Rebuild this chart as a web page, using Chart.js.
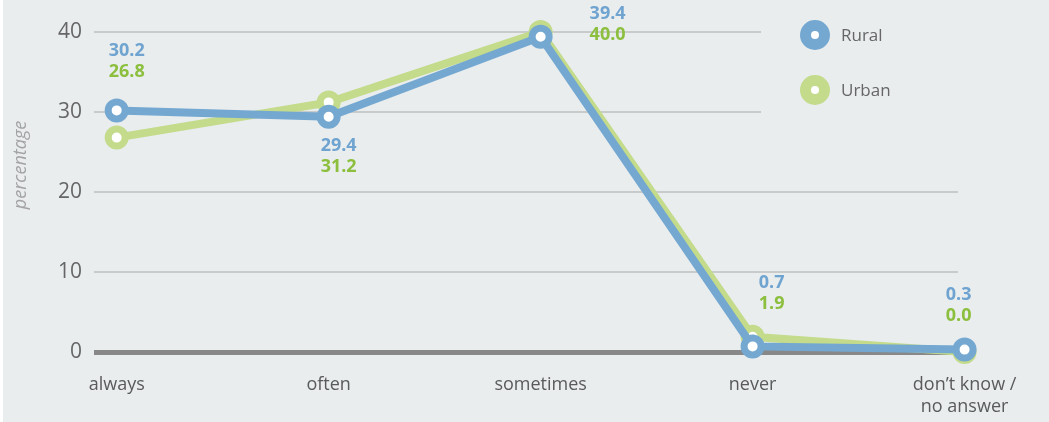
<!DOCTYPE html>
<html>
<head>
<meta charset="utf-8">
<script src="https://cdn.jsdelivr.net/npm/chart.js@4/dist/chart.umd.min.js"></script>
<style>
  html, body { margin: 0; padding: 0; background: #ffffff; }
  #wrap { position: absolute; left: 3px; top: 0; width: 1046px; height: 422px; background: #e9edee; }
</style>
</head>
<body>
<div id="wrap"><canvas id="canvas" width="1046" height="422"></canvas></div>
<script>
// données
const categories = ['always', 'often', 'sometimes', 'never', ["don\u2019t know /", 'no answer']];
const rural = [30.2, 29.4, 39.4, 0.7, 0.3];
const urban = [26.8, 31.2, 40.0, 1.9, 0.0];
const yTicks = [0, 10, 20, 30, 40];

const blue = '#74a8d1';
const green = '#c3db8a';
const blueText = '#6fa3d0';
const greenText = '#8cbf3e';

// décalage des étiquettes par rapport au point "Rural" (en px)
const labelOffsets = [[10, -60], [10, 29], [67, -23], [19, -64], [-6, -55]];

const FONT = '"Open Sans", "DejaVu Sans", sans-serif';

// étiquettes de valeurs + légende + titre de l'axe y dessinés à la main
const customPlugin = {
  id: 'custom',
  afterDatasetsDraw(chart) {
    const ctx = chart.ctx;
    const metaR = chart.getDatasetMeta(0);
    ctx.save();
    ctx.font = 'bold 18px ' + FONT;
    ctx.textAlign = 'center';
    ctx.textBaseline = 'middle';
    metaR.data.forEach((pt, i) => {
      const [dx, dy] = labelOffsets[i];
      ctx.fillStyle = blueText;
      ctx.fillText(rural[i].toFixed(1), pt.x + dx, pt.y + dy);
      ctx.fillStyle = greenText;
      ctx.fillText(urban[i].toFixed(1), pt.x + dx, pt.y + dy + 21);
    });

    // légende (cache les lignes de grille derrière)
    ctx.fillStyle = '#e9edee';
    ctx.fillRect(758, 20, 200, 100);
    chart.data.datasets.forEach((ds, i) => {
      const cy = 35 + i * 55;
      ctx.beginPath();
      ctx.arc(812, cy, 15, 0, Math.PI * 2);
      ctx.fillStyle = ds.borderColor;
      ctx.fill();
      ctx.beginPath();
      ctx.arc(812, cy, 4, 0, Math.PI * 2);
      ctx.fillStyle = '#ffffff';
      ctx.fill();
      ctx.fillStyle = '#666666';
      ctx.font = '17px ' + FONT;
      ctx.textAlign = 'left';
      ctx.fillText(ds.label, 838, cy + 1);
    });

    // titre axe y
    ctx.translate(18, 165);
    ctx.rotate(-Math.PI / 2);
    ctx.font = 'italic 18px ' + FONT;
    ctx.fillStyle = '#a3a3a3';
    ctx.textAlign = 'center';
    ctx.fillText('percentage', 0, 0);
    ctx.restore();
  }
};

new Chart(document.getElementById('canvas'), {
  type: 'line',
  data: {
    datasets: [
      {
        label: 'Rural',
        data: rural.map((v, i) => ({ x: i, y: v })),
        borderColor: blue,
        backgroundColor: '#ffffff',
        borderWidth: 8,
        pointRadius: 8.5,
        pointBorderWidth: 7,
        pointBackgroundColor: '#ffffff',
        pointBorderColor: blue,
        tension: 0,
        clip: false,
      },
      {
        label: 'Urban',
        data: urban.map((v, i) => ({ x: i, y: v })),
        borderColor: green,
        backgroundColor: '#ffffff',
        borderWidth: 8,
        pointRadius: 8.5,
        pointBorderWidth: 7,
        pointBackgroundColor: '#ffffff',
        pointBorderColor: green,
        tension: 0,
        clip: false,
      },
    ],
  },
  options: {
    responsive: false,
    animation: false,
    layout: { padding: { top: 32, right: 91, bottom: 0, left: 0 } },
    plugins: { legend: { display: false }, tooltip: { enabled: false } },
    scales: {
      x: {
        type: 'linear',
        min: -0.107,
        max: 3.969,
        afterBuildTicks: axis => { axis.ticks = categories.map((c, i) => ({ value: i })); },
        afterFit: axis => { axis.height = 70; },
        grid: { display: false, drawTicks: false },
        border: { display: false },
        ticks: {
          callback: (v) => categories[v],
          color: '#5a5a5a',
          font: { size: 18, family: FONT },
          padding: 22,
          maxRotation: 0,
          autoSkip: false,
        },
      },
      y: {
        min: 0,
        max: 40,
        afterBuildTicks: axis => { axis.ticks = yTicks.map(v => ({ value: v })); },
        afterFit: axis => { axis.width = 91; },
        grid: {
          drawTicks: false,
          color: ctx => ctx.tick && ctx.tick.value === 0 ? '#888888' : '#c9cbcb',
          lineWidth: ctx => ctx.tick && ctx.tick.value === 0 ? 5 : 2,
        },
        border: { display: false },
        ticks: {
          color: '#666666',
          font: { size: 21, family: FONT },
          padding: 12,
        },
      },
    },
  },
  plugins: [customPlugin],
});
</script>
</body>
</html>
